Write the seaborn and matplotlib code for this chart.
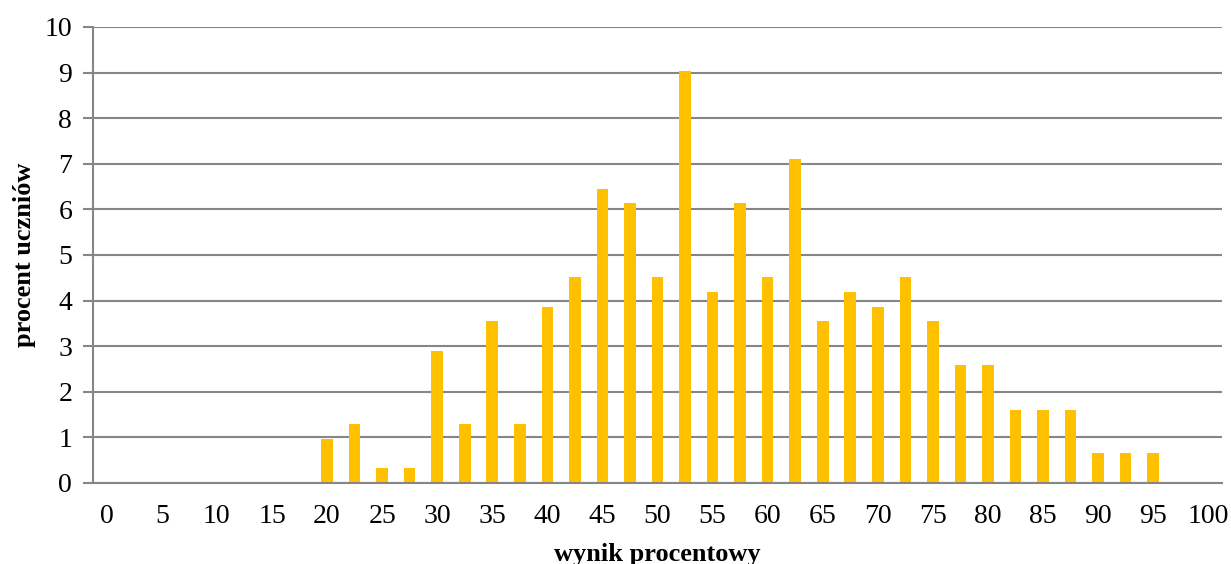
import matplotlib
matplotlib.use("Agg")
import matplotlib.pyplot as plt
import seaborn as sns
import pandas as pd

scores = [0, 2.5, 5, 7.5, 10, 12.5, 15, 17.5, 20, 22.5, 25, 27.5, 30, 32.5, 35, 37.5,
          40, 42.5, 45, 47.5, 50, 52.5, 55, 57.5, 60, 62.5, 65, 67.5, 70, 72.5, 75,
          77.5, 80, 82.5, 85, 87.5, 90, 92.5, 95, 97.5, 100]
percent = [0, 0, 0, 0, 0, 0, 0, 0, 0.97, 1.29, 0.32, 0.32, 2.90, 1.29, 3.55, 1.29,
           3.87, 4.52, 6.45, 6.13, 4.52, 9.03, 4.19, 6.13, 4.52, 7.10, 3.55, 4.19, 3.87, 4.52, 3.55,
           2.58, 2.58, 1.61, 1.61, 1.61, 0.65, 0.65, 0.65, 0, 0]
tick_labels = ["0", "5", "10", "15", "20", "25", "30", "35", "40", "45", "50",
               "55", "60", "65", "70", "75", "80", "85", "90", "95", "100"]

sns.set_theme(style="white")
plt.rcParams['font.family'] = ['Liberation Serif', 'DejaVu Serif']

cats = [f"{s:g}" for s in scores]
df = pd.DataFrame({"wynik": cats, "procent": percent})

fig = plt.figure(figsize=(12.31, 5.64), dpi=100)
ax = fig.add_axes([93/1231, 1 - 483/564, (1222-93)/1231, (483-27)/564])

ax.set_axisbelow(True)
ax.yaxis.grid(True, color="#868686", linewidth=1.5)
sns.barplot(data=df, x="wynik", y="procent", order=cats, color="#FFC000",
            saturation=1, width=0.42, linewidth=0, ax=ax)

ax.set_ylim(0, 10)
ax.set_yticks(range(0, 11))
ax.set_xlim(-0.5, len(cats) - 0.5)
ax.set_xticks(range(0, len(cats), 2))
ax.set_xticklabels(tick_labels)

for s in ["top", "right"]:
    ax.spines[s].set_visible(False)
ax.spines["left"].set_color("#868686")
ax.spines["left"].set_linewidth(1.5)
ax.spines["bottom"].set_color("#868686")
ax.spines["bottom"].set_linewidth(1.5)

ax.tick_params(axis="y", which="both", left=True, length=7, width=1.5, color="#868686",
               labelsize=20, pad=8, labelcolor="black")
ax.tick_params(axis="x", bottom=False, labelsize=20, pad=9, labelcolor="black")

ax.set_xlabel("wynik procentowy", fontsize=19, fontweight="bold", labelpad=10, color="black")
ax.set_ylabel("procent uczniów", fontsize=19, fontweight="bold", labelpad=6, color="black")

fig.savefig("out.png", dpi=100)
